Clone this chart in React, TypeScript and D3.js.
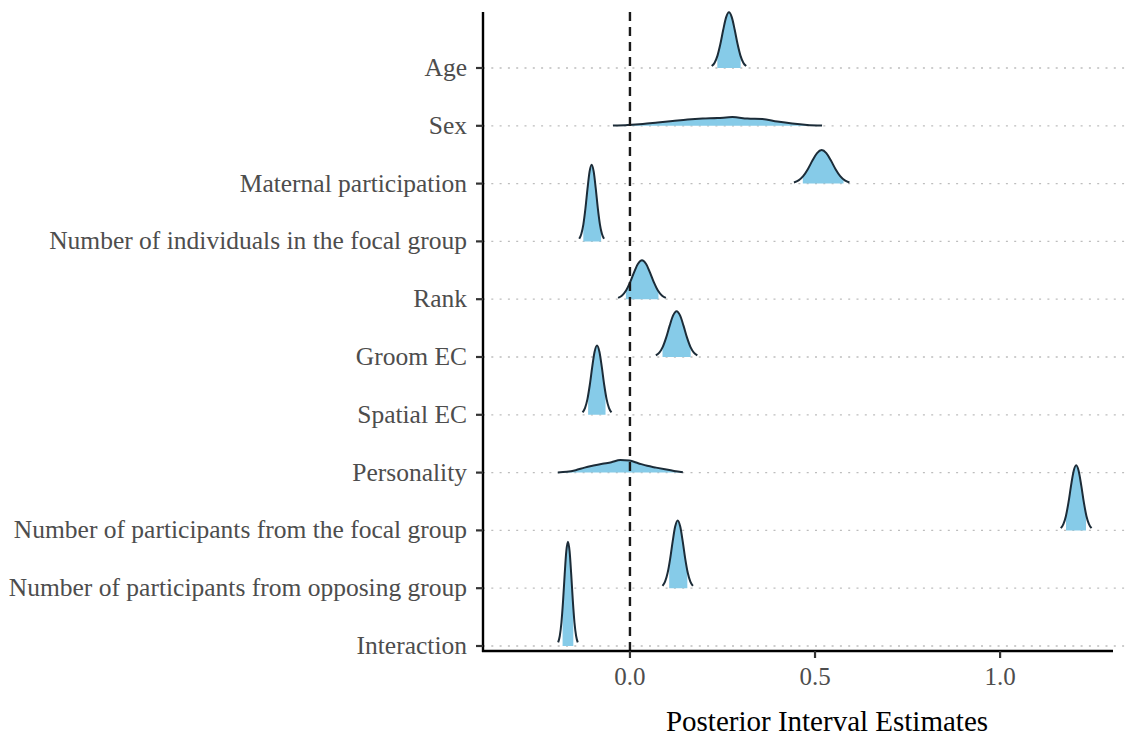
import React from 'react';
import * as d3 from 'd3';

// Model parameters, top to bottom
const parameters = [
  'Age',
  'Sex',
  'Maternal participation',
  'Number of individuals in the focal group',
  'Rank',
  'Groom EC',
  'Spatial EC',
  'Personality',
  'Number of participants from the focal group',
  'Number of participants from opposing group',
  'Interaction',
];

// Outer interval (outlined density) bounds
const outerLow = [0.221, -0.046, 0.443, -0.137, -0.032, 0.070, -0.128, -0.195, 1.164, 0.088, -0.194];
const outerHigh = [0.314, 0.519, 0.593, -0.070, 0.097, 0.182, -0.050, 0.143, 1.247, 0.170, -0.141];

// Inner interval (shaded area) bounds
const innerLow = [0.236, -0.016, 0.467, -0.126, -0.011, 0.088, -0.113, -0.189, 1.178, 0.106, -0.182];
const innerHigh = [0.299, 0.514, 0.577, -0.078, 0.077, 0.164, -0.066, 0.141, 1.232, 0.155, -0.153];

// Posterior density estimates on an evenly spaced grid spanning each outer interval
const densityAge = [0.76, 2.15, 5.0, 9.63, 15.39, 20.38, 22.4, 20.38, 15.39, 9.63, 5.0, 2.15, 0.76];
const densitySex = [0.08, 0.3, 0.7, 1.3, 1.9, 2.5, 2.9, 3.1, 3.5, 2.9, 2.7, 1.7, 0.9, 0.35, 0.1];
const densityMaternal = [0.46, 1.3, 3.01, 5.81, 9.27, 12.29, 13.5, 12.29, 9.27, 5.81, 3.01, 1.3, 0.46];
const densityIndividuals = [1.05, 2.97, 6.89, 13.29, 21.23, 28.12, 30.9, 28.12, 21.23, 13.29, 6.89, 2.97, 1.05];
const densityRank = [0.53, 1.51, 3.5, 6.75, 10.79, 14.29, 15.7, 14.29, 10.79, 6.75, 3.5, 1.51, 0.53];
const densityGroom = [0.63, 1.77, 4.1, 7.91, 12.64, 16.74, 18.4, 16.74, 12.64, 7.91, 4.1, 1.77, 0.63];
const densitySpatial = [0.95, 2.68, 6.22, 12.0, 19.17, 25.39, 27.9, 25.39, 19.17, 12.0, 6.22, 2.68, 0.95];
const densityPersonality = [0.08, 0.32, 0.97, 2.01, 2.82, 3.54, 4.19, 5.07, 4.83, 3.79, 2.74, 2.01, 1.33, 0.68, 0.12];
const densityFocal = [0.89, 2.52, 5.84, 11.27, 18.0, 23.84, 26.2, 23.84, 18.0, 11.27, 5.84, 2.52, 0.89];
const densityOpposing = [0.93, 2.62, 6.09, 11.74, 18.76, 24.84, 27.3, 24.84, 18.76, 11.74, 6.09, 2.62, 0.93];
const densityInteraction = [1.43, 4.03, 9.37, 18.06, 28.85, 38.22, 42.0, 38.22, 28.85, 18.06, 9.37, 4.03, 1.43];

const densities = [
  densityAge,
  densitySex,
  densityMaternal,
  densityIndividuals,
  densityRank,
  densityGroom,
  densitySpatial,
  densityPersonality,
  densityFocal,
  densityOpposing,
  densityInteraction,
];

const xTicks = [0, 0.5, 1.0];
const xTitle = 'Posterior Interval Estimates';

const WIDTH = 1128;
const HEIGHT = 736;
const FONT = '"Liberation Serif", "Times New Roman", Times, serif';
const FILL = '#86cbe8';
const OUTLINE = '#1c2c38';
const TEXT = '#4d4d4d';

export default function App() {
  const axisLeft = 483;
  const axisRight = 1113;
  const axisBottom = 651;
  const axisTop = 12;

  const x = d3.scaleLinear().domain([-0.397, 1.305]).range([axisLeft, axisRight]);
  const y = d3.scalePoint<string>().domain(parameters).range([68, 646]);
  const h = d3.scaleLinear().domain([0, 42]).range([0, 104.3]);

  const rows = parameters.map((p, i) => {
    const dens = densities[i];
    const grid = d3.range(dens.length).map(
      (k) => outerLow[i] + ((outerHigh[i] - outerLow[i]) * k) / (dens.length - 1)
    );
    const pts: [number, number][] = grid.map((g, k) => [g, dens[k]]);
    const base = y(p) as number;
    const area = d3
      .area<[number, number]>()
      .x((d) => x(d[0]))
      .y0(base)
      .y1((d) => base - h(d[1]))
      .curve(d3.curveMonotoneX)(pts) as string;
    const line = d3
      .line<[number, number]>()
      .x((d) => x(d[0]))
      .y((d) => base - h(d[1]))
      .curve(d3.curveMonotoneX)(pts) as string;
    return { p, i, base, area, line };
  });

  return (
    <svg
      width={WIDTH}
      height={HEIGHT}
      style={{ position: 'absolute', left: 0, top: 0, background: '#fff' }}
      fontFamily={FONT}
    >
      <defs>
        {rows.map((r) => (
          <clipPath id={`inner-${r.i}`} key={r.i}>
            <rect
              x={x(innerLow[r.i])}
              y={0}
              width={x(innerHigh[r.i]) - x(innerLow[r.i])}
              height={HEIGHT}
            />
          </clipPath>
        ))}
      </defs>

      {/* horizontal dotted reference lines */}
      {rows.map((r) => (
        <line
          key={`g-${r.i}`}
          x1={axisLeft}
          x2={WIDTH}
          y1={r.base}
          y2={r.base}
          stroke="#bdbdbd"
          strokeWidth={1.3}
          strokeDasharray="2 6.3"
        />
      ))}

      {/* densities: shaded inner interval and outlined outer interval */}
      {rows.map((r) => (
        <g key={`d-${r.i}`}>
          <path d={r.area} fill={FILL} clipPath={`url(#inner-${r.i})`} />
          <path d={r.line} fill="none" stroke={OUTLINE} strokeWidth={2} strokeLinejoin="round" />
        </g>
      ))}

      {/* zero reference */}
      <line
        x1={x(0)}
        x2={x(0)}
        y1={axisTop}
        y2={axisBottom}
        stroke="#1a1a1a"
        strokeWidth={2.4}
        strokeDasharray="9 6"
      />

      {/* axes */}
      <line x1={axisLeft} x2={axisLeft} y1={axisTop} y2={axisBottom + 1} stroke="#000" strokeWidth={2.4} />
      <line x1={axisLeft - 1} x2={axisRight} y1={axisBottom} y2={axisBottom} stroke="#000" strokeWidth={2.4} />

      {rows.map((r) => (
        <g key={`yl-${r.i}`}>
          <line x1={axisLeft - 7} x2={axisLeft} y1={r.base} y2={r.base} stroke="#333" strokeWidth={2.2} />
          <text x={467} y={r.base + 8} textAnchor="end" fontSize={25.5} fill={TEXT}>
            {r.p}
          </text>
        </g>
      ))}

      {xTicks.map((t) => (
        <g key={`xt-${t}`}>
          <line x1={x(t)} x2={x(t)} y1={axisBottom} y2={axisBottom + 7} stroke="#333" strokeWidth={2.2} />
          <text x={x(t)} y={685} textAnchor="middle" fontSize={25} fill={TEXT}>
            {d3.format('.1f')(t)}
          </text>
        </g>
      ))}

      <text x={827} y={731} textAnchor="middle" fontSize={29} fill="#000">
        {xTitle}
      </text>
    </svg>
  );
}
